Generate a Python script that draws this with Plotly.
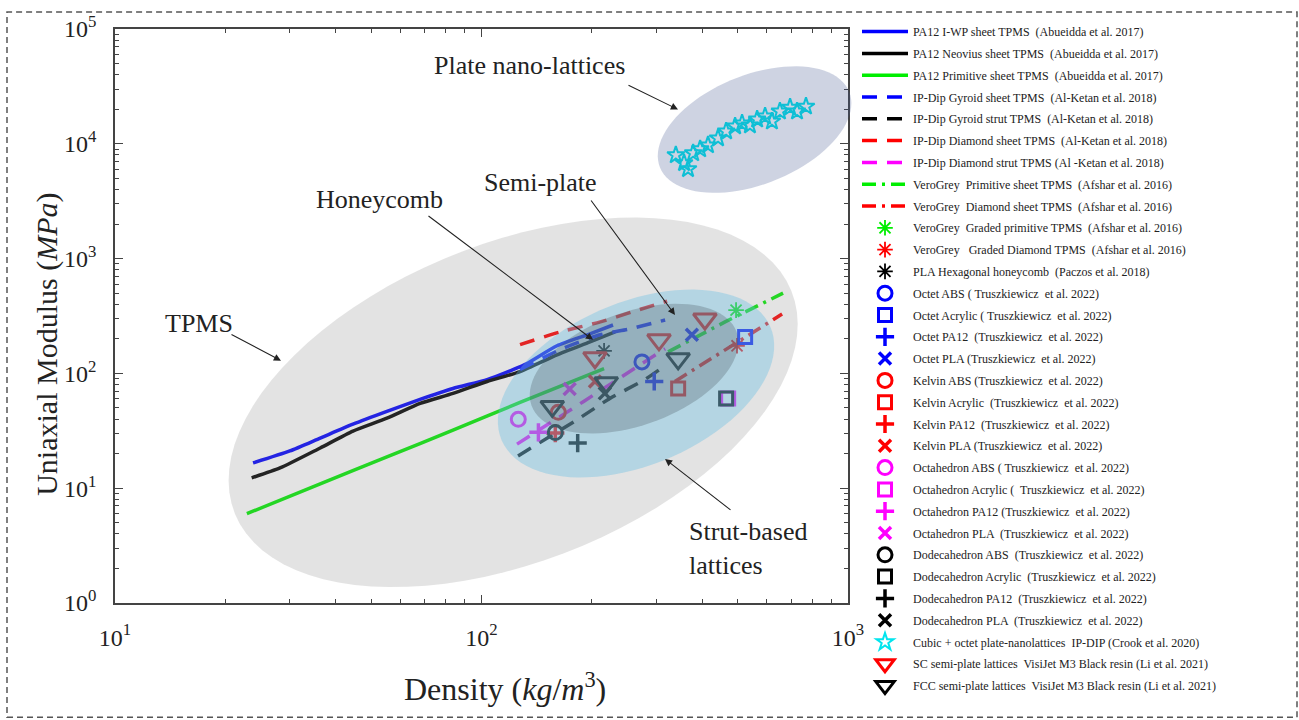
import numpy as np
import plotly.graph_objects as go

# ---------------- data: density (kg/m^3) vs uniaxial modulus (MPa) ----------------
iwp_density = [23.8, 30.0, 36.3, 44.6, 55.2, 68.0, 83.6, 103.6, 121.9, 133, 160.7, 197.7, 228.5]
iwp_modulus = [16.6, 21.1, 27.3, 36.1, 46.7, 59.4, 73.9, 88.4, 108, 122, 174, 221, 264]

neovius_density = [23.6, 28.2, 36.3, 44.6, 55.2, 68.0, 83.6, 103.6, 127.4, 160.7, 197.7, 231.4]
neovius_modulus = [12.3, 15.0, 22.4, 31.4, 40.7, 54.8, 66.9, 85.0, 103.7, 145, 188, 230]

primitive_density = [22.9, 36.3, 55.2, 83.6, 127.4, 216]
primitive_modulus = [6.0, 10.9, 18.7, 32.0, 55.9, 110]

gyroid_sheet_density = [127.4, 163.8, 210.6, 254, 317]
gyroid_sheet_modulus = [108, 161, 217, 244, 292]

gyroid_strut_density = [125.8, 183, 224, 279, 317]
gyroid_strut_modulus = [19.1, 39.8, 60.5, 88.4, 117]

diamond_sheet_density = [127.4, 164, 211, 262, 321]
diamond_sheet_modulus = [178, 230, 281, 349, 426]

diamond_strut_density = [125, 190, 271, 317]
diamond_strut_modulus = [24.2, 57.0, 119, 164]

vero_primitive_density = [323, 462, 665]
vero_primitive_modulus = [154, 281, 500]

vero_diamond_density = [337, 470, 661]
vero_diamond_modulus = [85, 167, 329]

graded_primitive_density = [495]
graded_primitive_modulus = [356]
graded_diamond_density = [498]
graded_diamond_modulus = [174]
honeycomb_density = [216]
honeycomb_modulus = [157]

octet_abs = ([274], [126])
octet_acrylic = ([524], [208])
octet_pa12 = ([296], [85])
octet_pla = ([375], [217])

kelvin_abs = ([162], [45.8])
kelvin_acrylic = ([344], [74])
kelvin_pa12 = ([159], [30.2])
kelvin_pla = ([204], [85])

octahedron_abs = ([126], [39.8])
octahedron_acrylic = ([471], [60.5])
octahedron_pa12 = ([143], [30.7])
octahedron_pla = ([174], [73])

dodecahedron_abs = ([159], [30.5])
dodecahedron_acrylic = ([465], [60.5])
dodecahedron_pa12 = ([183], [24.7])
dodecahedron_pla = ([217], [67])

plate_density = [339, 357, 366, 378, 395, 415, 442, 465, 492, 514, 540, 565, 594, 620, 652, 695, 726, 768]
plate_modulus = [7970, 6795, 6030, 8290, 8980, 9725, 11180, 12850, 14200, 15075, 14490, 16320,
                 17320, 15690, 19140, 20730, 19140, 21150]

sc_density = [204, 305, 407]
sc_modulus = [137, 196, 298]
fcc_density = [156, 219, 344]
fcc_modulus = [51.6, 83, 134]

x_tickvals = [10, 100, 1000]
x_ticktext = ["10<sup>1</sup>", "10<sup>2</sup>", "10<sup>3</sup>"]
y_tickvals = [1, 10, 100, 1000, 10000, 100000]
y_ticktext = ["10<sup>0</sup>", "10<sup>1</sup>", "10<sup>2</sup>", "10<sup>3</sup>",
              "10<sup>4</sup>", "10<sup>5</sup>"]

# ---------------- page geometry ----------------
FIG_W, FIG_H = 1299, 720
PL, PR, PT, PB = 115, 848, 25, 603          # plot frame in page pixels
PW, PH = PR - PL, PB - PT
SERIF = "Liberation Serif, Times New Roman, serif"
INK = "#222222"


def to_paper(px, py):
    return (px - PL) / PW, (PB - py) / PH


def data_to_px(x, y):
    return PL + PW * (np.log10(x) - 1) / 2, PB - PH * np.log10(y) / 5


def ellipse_path(cx, cy, a, b, deg, n=90):
    """Rotated ellipse centred on a data point, semi-axes in pixels."""
    px0, py0 = data_to_px(cx, cy)
    th = np.radians(deg)
    t = np.linspace(0, 2 * np.pi, n, endpoint=False)
    px = px0 + a * np.cos(t) * np.cos(th) - b * np.sin(t) * np.sin(th)
    py = py0 - (a * np.cos(t) * np.sin(th) + b * np.sin(t) * np.cos(th))
    pts = [to_paper(u, v) for u, v in zip(px, py)]
    return "M" + " L".join(f"{u:.5f},{v:.5f}" for u, v in pts) + " Z"


fig = go.Figure()
gid = [0]


def add(x, y, name, **kw):
    gid[0] += 1
    fig.add_trace(go.Scatter(x=x, y=y, name=name, legendgroup=f"g{gid[0]}", **kw))


def line(x, y, name, color, dash="solid", smooth=False):
    add(x, y, name, mode="lines",
        line=dict(color=color, width=3.5, dash=dash, shape="spline" if smooth else "linear",
                  smoothing=0.6))


def mark(xy, name, color, symbol, size, lw):
    add(xy[0], xy[1], name, mode="markers",
        marker=dict(symbol=symbol, size=size, color=color, line=dict(width=lw, color=color)))


BLUE, BLACK, GREEN, RED, MAG, CYAN = "#0000ff", "#000000", "#00ee00", "#ff0000", "#ff00ff", "#00e5ee"
DASH = "15px,10px"
DASHDOT = "14px,6px,3px,6px"

line(iwp_density, iwp_modulus, "PA12 I-WP sheet TPMS  (Abueidda et al. 2017)", BLUE, smooth=True)
line(neovius_density, neovius_modulus, "PA12 Neovius sheet TPMS  (Abueidda et al. 2017)", BLACK, smooth=True)
line(primitive_density, primitive_modulus, "PA12 Primitive sheet TPMS  (Abueidda et al. 2017)", GREEN, smooth=True)
line(gyroid_sheet_density, gyroid_sheet_modulus, "IP-Dip Gyroid sheet TPMS  (Al-Ketan et al. 2018)", BLUE, DASH, True)
line(gyroid_strut_density, gyroid_strut_modulus, "IP-Dip Gyroid strut TPMS  (Al-Ketan et al. 2018)", BLACK, DASH, True)
line(diamond_sheet_density, diamond_sheet_modulus, "IP-Dip Diamond sheet TPMS  (Al-Ketan et al. 2018)", RED, DASH, True)
line(diamond_strut_density, diamond_strut_modulus, "IP-Dip Diamond strut TPMS (Al -Ketan et al. 2018)", MAG, DASH, True)
line(vero_primitive_density, vero_primitive_modulus, "VeroGrey  Primitive sheet TPMS  (Afshar et al. 2016)", GREEN, DASHDOT)
line(vero_diamond_density, vero_diamond_modulus, "VeroGrey  Diamond sheet TPMS  (Afshar et al. 2016)", RED, DASHDOT)

mark((graded_primitive_density, graded_primitive_modulus),
     "VeroGrey  Graded primitive TPMS  (Afshar et al. 2016)", GREEN, "asterisk-open", 13, 1.8)
mark((graded_diamond_density, graded_diamond_modulus),
     "VeroGrey   Graded Diamond TPMS  (Afshar et al. 2016)", RED, "asterisk-open", 13, 1.8)
mark((honeycomb_density, honeycomb_modulus),
     "PLA Hexagonal honeycomb  (Paczos et al. 2018)", BLACK, "asterisk-open", 13, 1.8)

families = [("Octet", BLUE, [octet_abs, octet_acrylic, octet_pa12, octet_pla],
             ["Octet ABS ( Truszkiewicz  et al. 2022)", "Octet Acrylic ( Truszkiewicz  et al. 2022)",
              "Octet PA12  (Truszkiewicz  et al. 2022)", "Octet PLA (Truszkiewicz  et al. 2022)"]),
            ("Kelvin", RED, [kelvin_abs, kelvin_acrylic, kelvin_pa12, kelvin_pla],
             ["Kelvin ABS (Truszkiewicz  et al. 2022)", "Kelvin Acrylic  (Truszkiewicz  et al. 2022)",
              "Kelvin PA12  (Truszkiewicz  et al. 2022)", "Kelvin PLA (Truszkiewicz  et al. 2022)"]),
            ("Octahedron", MAG, [octahedron_abs, octahedron_acrylic, octahedron_pa12, octahedron_pla],
             ["Octahedron ABS ( Truszkiewicz  et al. 2022)", "Octahedron Acrylic (  Truszkiewicz  et al. 2022)",
              "Octahedron PA12 (Truszkiewicz  et al. 2022)", "Octahedron PLA  (Truszkiewicz  et al. 2022)"]),
            ("Dodecahedron", BLACK, [dodecahedron_abs, dodecahedron_acrylic, dodecahedron_pa12, dodecahedron_pla],
             ["Dodecahedron ABS  (Truszkiewicz  et al. 2022)", "Dodecahedron Acrylic  (Truszkiewicz  et al. 2022)",
              "Dodecahedron PA12  (Truszkiewicz  et al. 2022)", "Dodecahedron PLA  (Truszkiewicz  et al. 2022)"])]
symbols = [("circle-open", 14, 3), ("square-open", 13, 3), ("cross-thin-open", 13, 3.5), ("x-thin-open", 12, 3.5)]
for _, col, pts, names in families:
    for xy, nm, (sym, sz, lw) in zip(pts, names, symbols):
        mark(xy, nm, col, sym, sz, lw)

mark((plate_density, plate_modulus), "Cubic + octet plate-nanolattices  IP-DIP (Crook et al. 2020)",
     CYAN, "star-open", 13, 2)
mark((sc_density, sc_modulus), "SC semi-plate lattices  VisiJet M3 Black resin (Li et al. 2021)",
     RED, "triangle-down-open", 20, 3)
mark((fcc_density, fcc_modulus), "FCC semi-plate lattices  VisiJet M3 Black resin (Li et al. 2021)",
     BLACK, "triangle-down-open", 20, 3)

# ---------------- translucent regions drawn over the data ----------------
regions = [
    dict(c=(122, 56), a=300, b=160, deg=22, fill="rgb(144,144,144)", op=0.25),     # TPMS
    dict(c=(264, 81.6), a=146, b=82, deg=23, fill="rgb(96,188,228)", op=0.36),     # strut-based
    dict(c=(260.7, 110), a=109, b=57, deg=20, fill="rgb(70,82,90)", op=0.28),      # semi-plate
    dict(c=(556, 13300), a=102, b=55, deg=22, fill="rgb(60,80,140)", op=0.25),     # plate nano-lattices
]
shapes = []
for r in regions:
    shapes.append(dict(type="path", xref="paper", yref="paper", layer="above",
                       path=ellipse_path(r["c"][0], r["c"][1], r["a"], r["b"], r["deg"]),
                       fillcolor=r["fill"], opacity=r["op"], line=dict(width=0)))

# dashed frame around the whole figure
fx0, fy0 = to_paper(7, 718)
fx1, fy1 = to_paper(1297, 8)
shapes.append(dict(type="rect", xref="paper", yref="paper", x0=fx0, y0=fy0, x1=fx1, y1=fy1,
                   line=dict(color="#555555", width=1.5, dash="6px,4px"), layer="above"))

# ---------------- labels and arrows ----------------
annotations = []


def label(text, px, py, size=26, xanchor="center", **kw):
    fx, fy = to_paper(px, py)
    annotations.append(dict(text=text, x=fx, y=fy, xref="paper", yref="paper", showarrow=False,
                            xanchor=xanchor, yanchor="middle",
                            font=dict(family=SERIF, size=size, color=INK), **kw))


def arrow(tail, tip):
    fx, fy = to_paper(*tip)
    annotations.append(dict(text="", x=fx, y=fy, xref="paper", yref="paper", showarrow=True,
                            ax=tail[0] - tip[0], ay=tail[1] - tip[1], arrowhead=2, arrowsize=1.3,
                            arrowwidth=1.1, arrowcolor="#222222", standoff=0, startstandoff=0))


label("Plate nano-lattices", 529, 62)
label("Semi-plate", 540, 180)
label("Honeycomb", 379, 197)
label("TPMS", 199, 322)
label("Strut-based<br>lattices", 687, 548, xanchor="left", align="left")
arrow((627, 81), (678, 106))
arrow((590, 197), (675, 313))
arrow((427, 213), (593, 338))
arrow((230, 332), (281, 359))
arrow((732, 510), (665, 458))

label("Density (<i>kg</i>/<i>m</i><sup>3</sup>)", 505, 688, size=32)
label("Uniaxial Modulus (<i>MPa</i>)", 47, 343, size=30, textangle=-90)

axis_common = dict(type="log", showgrid=False, zeroline=False, showline=True, linecolor="#444444",
                   linewidth=1.5, mirror="allticks", ticks="inside", ticklen=8, tickwidth=1.2,
                   tickcolor="#444444", tickfont=dict(family=SERIF, size=24, color=INK),
                   tickmode="array")

fig.update_layout(
    width=FIG_W, height=FIG_H,
    margin=dict(l=PL, r=FIG_W - PR, t=PT, b=FIG_H - PB),
    paper_bgcolor="white", plot_bgcolor="white",
    xaxis=dict(range=[1, 3], tickvals=x_tickvals, ticktext=x_ticktext, ticklabelstandoff=12,
               minor=dict(ticks="inside", ticklen=4, tickcolor="#444444", tickmode="array",
                          tickvals=[m * 10 ** k for k in range(1, 3) for m in range(2, 10)]),
               **axis_common),
    yaxis=dict(range=[0, 5], tickvals=y_tickvals, ticktext=y_ticktext, ticklabelstandoff=12,
               minor=dict(ticks="inside", ticklen=4, tickcolor="#444444", tickmode="array",
                          tickvals=[m * 10 ** k for k in range(0, 5) for m in range(2, 10)]),
               **axis_common),
    legend=dict(x=1.0 + (857 - PR) / PW, xanchor="left", y=1 + (PT - 13) / PH, yanchor="top",
                font=dict(family=SERIF, size=12, color=INK), traceorder="grouped",
                tracegroupgap=2.8, itemwidth=46, maxheight=705, bgcolor="rgba(0,0,0,0)",
                borderwidth=0),
    shapes=shapes, annotations=annotations,
)

fig.write_html("out.html")
